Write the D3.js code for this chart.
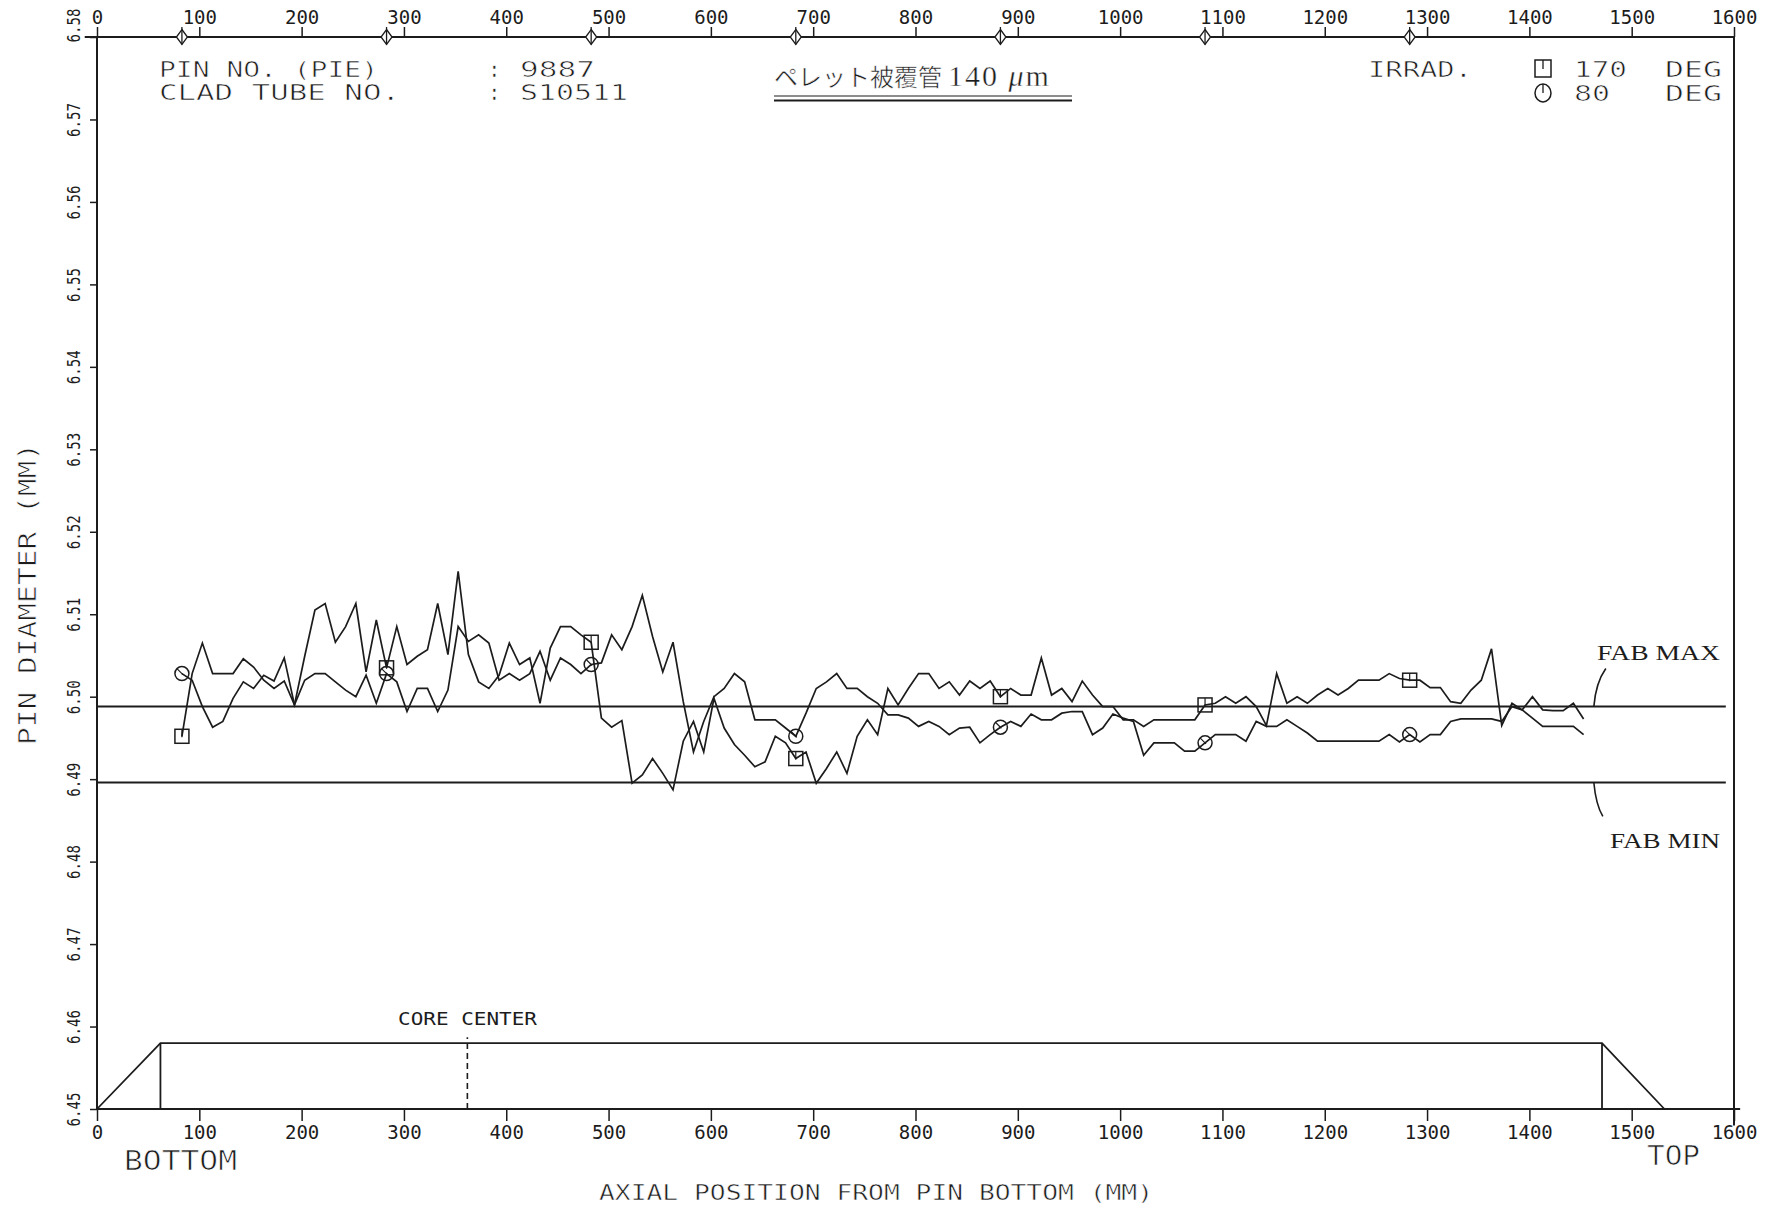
<!DOCTYPE html>
<html>
<head>
<meta charset="utf-8">
<style>
  body { margin: 0; background: #fff; }
  svg { display: block; }
</style>
</head>
<body>
<div id="chart"></div>
<script src="https://d3js.org/d3.v7.min.js"></script>
<script>
// axial measuring positions (mm from pin bottom)
var axialPos = [
  83, 93, 103, 113, 123, 133, 143, 153, 163, 173, 183, 193, 203, 213, 223, 233, 243, 253, 263, 273,
  283, 293, 303, 313, 323, 333, 343, 353, 363, 373, 383, 393, 403, 413, 423, 433, 443, 453, 463, 473,
  483, 493, 503, 513, 523, 533, 543, 553, 563, 573, 583, 593, 603, 613, 623, 633, 643, 653, 663, 673,
  683, 693, 703, 713, 723, 733, 743, 753, 763, 773, 783, 793, 803, 813, 823, 833, 843, 853, 863, 873,
  883, 893, 903, 913, 923, 933, 943, 953, 963, 973, 983, 993, 1003, 1013, 1023, 1033, 1043, 1053, 1063, 1073,
  1083, 1093, 1103, 1113, 1123, 1133, 1143, 1153, 1163, 1173, 1183, 1193, 1203, 1213, 1223, 1233, 1243, 1253, 1263, 1273,
  1283, 1293, 1303, 1313, 1323, 1333, 1343, 1353, 1363, 1373, 1383, 1393, 1403, 1413, 1423, 1433, 1443, 1453
];

// pin diameter at 170 deg (square marker)
var dia170 = [
  6.4952, 6.5028, 6.5065, 6.5028, 6.5028, 6.5028, 6.5046, 6.5036, 6.5020, 6.5010,
  6.5019, 6.4990, 6.5049, 6.5105, 6.5113, 6.5066, 6.5085, 6.5113, 6.5030, 6.5093,
  6.5035, 6.5085, 6.5039, 6.5049, 6.5057, 6.5113, 6.5051, 6.5152, 6.5051, 6.5018,
  6.5010, 6.5026, 6.5065, 6.5039, 6.5047, 6.4992, 6.5059, 6.5085, 6.5085, 6.5075,
  6.5066, 6.4974, 6.4963, 6.4971, 6.4895, 6.4905, 6.4925, 6.4907, 6.4887, 6.4946,
  6.4970, 6.4933, 6.4998, 6.4962, 6.4942, 6.4929, 6.4915, 6.4921, 6.4952, 6.4944,
  6.4925, 6.4933, 6.4895, 6.4913, 6.4933, 6.4907, 6.4952, 6.4972, 6.4954, 6.5010,
  6.4990, 6.5010, 6.5028, 6.5028, 6.5010, 6.5018, 6.5002, 6.5019, 6.5010, 6.5019,
  6.5000, 6.5010, 6.5002, 6.5002, 6.5047, 6.5002, 6.5010, 6.4994, 6.5019, 6.5002,
  6.4988, 6.4988, 6.4972, 6.4972, 6.4964, 6.4972, 6.4972, 6.4972, 6.4972, 6.4972,
  6.4990, 6.4992, 6.5000, 6.4992, 6.5000, 6.4988, 6.4965, 6.5028, 6.4992, 6.5000,
  6.4992, 6.5002, 6.5010, 6.5002, 6.5010, 6.5020, 6.5020, 6.5020, 6.5028, 6.5022,
  6.5020, 6.5020, 6.5011, 6.5011, 6.4994, 6.4992, 6.5008, 6.5020, 6.5058, 6.4965,
  6.4992, 6.4984, 6.5000, 6.4984, 6.4983, 6.4983, 6.4992, 6.4973
];

// pin diameter at 80 deg (circle marker)
var dia80 = [
  6.5028, 6.5020, 6.4988, 6.4963, 6.4970, 6.4998, 6.5018, 6.5010, 6.5026, 6.5019,
  6.5047, 6.4990, 6.5020, 6.5028, 6.5028, 6.5018, 6.5008, 6.5000, 6.5026, 6.4992,
  6.5028, 6.5018, 6.4982, 6.5010, 6.5010, 6.4982, 6.5008, 6.5085, 6.5067, 6.5075,
  6.5065, 6.5020, 6.5028, 6.5020, 6.5028, 6.5055, 6.5020, 6.5047, 6.5039, 6.5028,
  6.5039, 6.5041, 6.5075, 6.5057, 6.5085, 6.5123, 6.5073, 6.5030, 6.5066, 6.4994,
  6.4933, 6.4970, 6.5000, 6.5010, 6.5028, 6.5018, 6.4972, 6.4972, 6.4972, 6.4962,
  6.4952, 6.4980, 6.5010, 6.5018, 6.5028, 6.5010, 6.5010, 6.5000, 6.4992, 6.4978,
  6.4978, 6.4974, 6.4964, 6.4970, 6.4964, 6.4954, 6.4962, 6.4963, 6.4944, 6.4954,
  6.4963, 6.4970, 6.4964, 6.4979, 6.4972, 6.4972, 6.4980, 6.4982, 6.4982, 6.4954,
  6.4962, 6.4979, 6.4974, 6.4970, 6.4929, 6.4944, 6.4944, 6.4944, 6.4934, 6.4934,
  6.4944, 6.4954, 6.4954, 6.4954, 6.4946, 6.4970, 6.4964, 6.4964, 6.4972, 6.4964,
  6.4956, 6.4946, 6.4946, 6.4946, 6.4946, 6.4946, 6.4946, 6.4946, 6.4954, 6.4945,
  6.4954, 6.4945, 6.4954, 6.4954, 6.4970, 6.4973, 6.4973, 6.4973, 6.4973, 6.4970,
  6.4988, 6.4984, 6.4974, 6.4964, 6.4964, 6.4964, 6.4964, 6.4954
];

var markerPos = [83, 283, 483, 683, 883, 1083, 1283];
var xTicks = [0, 100, 200, 300, 400, 500, 600, 700, 800, 900, 1000, 1100, 1200, 1300, 1400, 1500, 1600];
var yTicks = [6.45, 6.46, 6.47, 6.48, 6.49, 6.50, 6.51, 6.52, 6.53, 6.54, 6.55, 6.56, 6.57, 6.58];
var fabMax = 6.4988, fabMin = 6.4896;
var coreShape = [[0, 6.45], [62, 6.458], [1471, 6.458], [1532, 6.45]];
var coreEdges = [62, 1471];
var coreCenter = 362;

var width = 1769
  , height = 1207
  , ink = '#1c1c1c'
  , mono = '"DejaVu Sans Mono", monospace'
  , serif = '"Liberation Serif", serif';

var svg = d3.select('#chart').append('svg')
  .attr('width', width)
  .attr('height', height);

svg.append('rect').attr('width', width).attr('height', height).attr('fill', '#fff');

var x = d3.scaleLinear().domain([0, 1600]).range([97, 1734]);
var y = d3.scaleLinear().domain([6.45, 6.58]).range([1109, 37]);

function inkAxis(g, size) {
  g.attr('font-family', mono).attr('font-size', size);
  g.select('.domain').remove();
  g.selectAll('.tick line').attr('stroke', ink).attr('stroke-width', 1.5);
  g.selectAll('.tick text').attr('fill', ink);
}

// top axis
var axTop = svg.append('g')
  .attr('transform', 'translate(0,' + y(6.58) + ')')
  .call(d3.axisTop(x).tickValues(xTicks).tickSize(10).tickPadding(3).tickFormat(d3.format('d')));
inkAxis(axTop, 19);

// bottom axis
var axBottom = svg.append('g')
  .attr('transform', 'translate(0,' + y(6.45) + ')')
  .call(d3.axisBottom(x).tickValues(xTicks).tickSize(12).tickPadding(5).tickFormat(d3.format('d')));
inkAxis(axBottom, 19);

// left axis, labels turned on their side
var axLeft = svg.append('g')
  .attr('transform', 'translate(' + x(0) + ',0)')
  .call(d3.axisLeft(y).tickValues(yTicks).tickSize(7).tickFormat(d3.format('.2f')));
inkAxis(axLeft, 17);
axLeft.selectAll('.tick text')
  .attr('x', null)
  .attr('dy', null)
  .attr('text-anchor', 'middle')
  .attr('transform', function(d) { return 'translate(-17,' + (d === 6.58 ? -12 : 0) + ') rotate(-90)'; })
  .attr('textLength', 34)
  .attr('lengthAdjust', 'spacingAndGlyphs');

// frame lines
var frame = [
  [[-12, 6.58], [1600, 6.58]],
  [[0, 6.58], [0, 6.45]],
  [[0, 6.45], [1606, 6.45]],
  [[1600, 6.58], [1600, 6.448]]
];
var seg = d3.line().x(function(d) { return x(d[0]); }).y(function(d) { return y(d[1]); });
svg.append('g').selectAll('path').data(frame).enter().append('path')
  .attr('d', seg)
  .attr('fill', 'none')
  .attr('stroke', ink)
  .attr('stroke-width', 2);

// diamonds on the top axis at the marker positions
var dia = svg.append('g').selectAll('g').data(markerPos).enter().append('g')
  .attr('transform', function(d) { return 'translate(' + x(d) + ',' + y(6.58) + ')'; });
dia.append('path')
  .attr('d', 'M0,-7.5L5.5,0L0,7.5L-5.5,0Z')
  .attr('fill', '#fff')
  .attr('stroke', ink)
  .attr('stroke-width', 1.3);
dia.append('line')
  .attr('y1', -10).attr('y2', 7.5)
  .attr('stroke', ink).attr('stroke-width', 1.3);

// fab limits
[fabMax, fabMin].forEach(function(v) {
  svg.append('line')
    .attr('x1', x(0)).attr('x2', x(1592))
    .attr('y1', y(v)).attr('y2', y(v))
    .attr('stroke', ink).attr('stroke-width', 2);
});
svg.append('path')
  .attr('d', 'M' + x(1463) + ',' + y(fabMax) + 'Q' + (x(1463) + 2) + ',' + (y(fabMax) - 24) + ' ' + (x(1463) + 12) + ',' + (y(fabMax) - 38))
  .attr('fill', 'none').attr('stroke', ink).attr('stroke-width', 1.6);
svg.append('path')
  .attr('d', 'M' + x(1463) + ',' + y(fabMin) + 'Q' + (x(1463) + 2) + ',' + (y(fabMin) + 22) + ' ' + (x(1463) + 9) + ',' + (y(fabMin) + 34))
  .attr('fill', 'none').attr('stroke', ink).attr('stroke-width', 1.6);

// core region sketch
svg.append('path').datum(coreShape)
  .attr('d', seg)
  .attr('fill', 'none').attr('stroke', ink).attr('stroke-width', 1.8);
svg.append('g').selectAll('line').data(coreEdges).enter().append('line')
  .attr('x1', function(d) { return x(d); }).attr('x2', function(d) { return x(d); })
  .attr('y1', y(6.45)).attr('y2', y(6.458))
  .attr('stroke', ink).attr('stroke-width', 1.8);
svg.append('line')
  .attr('x1', x(coreCenter)).attr('x2', x(coreCenter))
  .attr('y1', y(6.45)).attr('y2', y(6.4587))
  .attr('stroke', ink).attr('stroke-width', 1.6)
  .attr('stroke-dasharray', '6,4');

// the two diameter traces
var trace = d3.line()
  .x(function(d) { return x(d[0]); })
  .y(function(d) { return y(d[1]); });

var series = [
  { values: dia170, mark: 'square' },
  { values: dia80, mark: 'circle' }
];

series.forEach(function(s) {
  var pts = axialPos.map(function(p, i) { return [p, s.values[i]]; });
  svg.append('path').datum(pts)
    .attr('d', trace)
    .attr('fill', 'none')
    .attr('stroke', ink)
    .attr('stroke-width', 1.7)
    .attr('stroke-linejoin', 'miter');

  var marks = svg.append('g').selectAll('g')
    .data(markerPos.map(function(p) { return [p, s.values[axialPos.indexOf(p)]]; }))
    .enter().append('g')
    .attr('transform', function(d) { return 'translate(' + x(d[0]) + ',' + y(d[1]) + ')'; });
  if (s.mark === 'square') {
    marks.append('rect')
      .attr('x', -7).attr('y', -7).attr('width', 14).attr('height', 14)
      .attr('fill', 'none').attr('stroke', ink).attr('stroke-width', 1.5);
    marks.append('line')
      .attr('y1', -7).attr('y2', 1)
      .attr('stroke', ink).attr('stroke-width', 1.2);
  } else {
    marks.append('circle')
      .attr('r', 7)
      .attr('fill', 'none').attr('stroke', ink).attr('stroke-width', 1.5);
    marks.append('line')
      .attr('x1', -5).attr('y1', -5).attr('x2', 1).attr('y2', 1)
      .attr('stroke', ink).attr('stroke-width', 1.2);
  }
});

// texts: plotter lettering is thin, so a white hairline trims the glyphs
function label(txt, px, py, size, len, font, trim) {
  var t = svg.append('text')
    .attr('x', px).attr('y', py)
    .attr('font-family', font || mono)
    .attr('font-size', size)
    .attr('fill', ink)
    .text(txt);
  if (len) t.attr('textLength', len).attr('lengthAdjust', 'spacingAndGlyphs');
  if (trim) t.attr('stroke', '#fff').attr('stroke-width', trim);
  return t;
}

label('PIN NO. (PIE)', 159, 77, 21, 219, mono, 0.6);
label('CLAD TUBE NO.', 159, 100, 21, 241, mono, 0.6);
label(':', 488, 77, 21, null, mono, 0.5);
label(':', 488, 100, 21, null, mono, 0.5);
label('9887', 520, 77, 21, 75, mono, 0.6);
label('S10511', 520, 100, 21, 108, mono, 0.6);

label('ペレット被覆管', 774, 86, 24, 168, '"Noto Sans CJK JP"', 0.5);
var um = svg.append('text').attr('x', 948).attr('y', 86)
  .attr('font-family', serif).attr('font-size', 30).attr('fill', ink)
  .attr('letter-spacing', 2)
  .attr('stroke', '#fff').attr('stroke-width', 0.4);
um.append('tspan').text('140 ');
um.append('tspan').attr('font-style', 'italic').text('μ');
um.append('tspan').text('m');
svg.append('line').attr('x1', 774).attr('x2', 1072).attr('y1', 96).attr('y2', 96)
  .attr('stroke', ink).attr('stroke-width', 1.2);
svg.append('line').attr('x1', 774).attr('x2', 1072).attr('y1', 100.5).attr('y2', 100.5)
  .attr('stroke', ink).attr('stroke-width', 2);

label('IRRAD.', 1368, 77, 21, 104, mono, 0.6);
label('170', 1574, 77, 21, 53, mono, 0.6);
label('DEG', 1665, 77, 21, 57, mono, 0.6);
label('80', 1574, 101, 21, 36, mono, 0.6);
label('DEG', 1665, 101, 21, 57, mono, 0.6);
var lg = svg.append('g');
lg.append('rect').attr('x', 1535).attr('y', 60).attr('width', 16).attr('height', 17)
  .attr('fill', 'none').attr('stroke', ink).attr('stroke-width', 1.5);
lg.append('line').attr('x1', 1543).attr('x2', 1543).attr('y1', 60).attr('y2', 69)
  .attr('stroke', ink).attr('stroke-width', 1.3);
lg.append('ellipse').attr('cx', 1543).attr('cy', 93).attr('rx', 8).attr('ry', 9)
  .attr('fill', 'none').attr('stroke', ink).attr('stroke-width', 1.5);
lg.append('line').attr('x1', 1543).attr('x2', 1543).attr('y1', 84).attr('y2', 93)
  .attr('stroke', ink).attr('stroke-width', 1.3);

label('FAB  MAX', 1597, 660, 22, 123, serif);
label('FAB  MIN', 1610, 848, 22, 110, serif);

label('CORE CENTER', 398, 1025, 17, 139);
label('BOTTOM', 124, 1170, 27, 113, mono, 0.7);
label('TOP', 1647, 1165, 27, 53, mono, 0.7);
label('AXIAL POSITION FROM PIN BOTTOM (MM)', 599, 1200, 21, 554, mono, 0.5);

svg.append('text')
  .attr('transform', 'translate(36,594) rotate(-90)')
  .attr('text-anchor', 'middle')
  .attr('font-family', mono)
  .attr('font-size', 25)
  .attr('fill', ink)
  .attr('stroke', '#fff')
  .attr('stroke-width', 0.7)
  .attr('textLength', 302)
  .attr('lengthAdjust', 'spacingAndGlyphs')
  .text('PIN DIAMETER  (MM)');
</script>
</body>
</html>
